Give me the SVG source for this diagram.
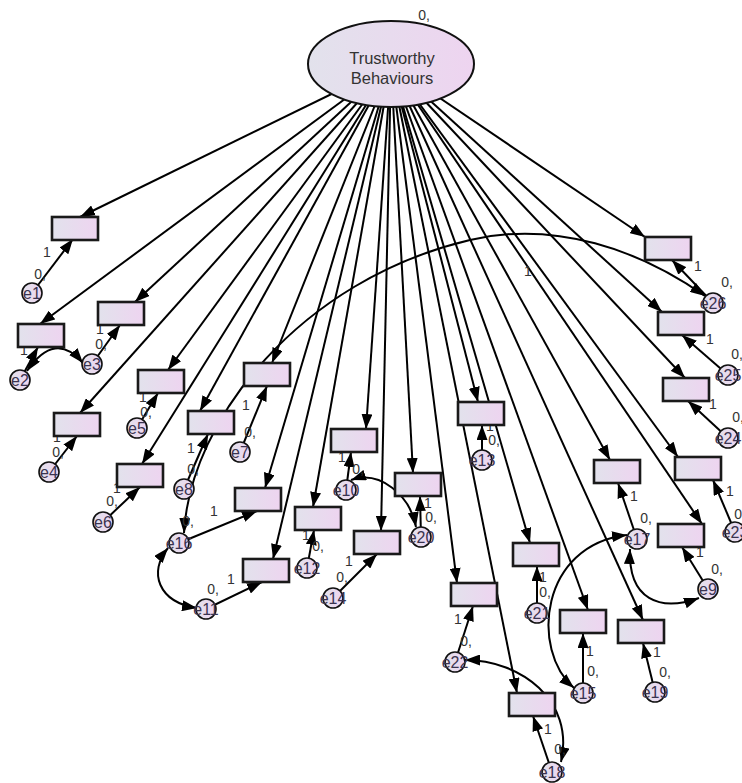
<svg xmlns="http://www.w3.org/2000/svg" width="742" height="783" viewBox="0 0 742 783">
<style>
  .ln { stroke:#000; stroke-width:2; fill:none; marker-end:url(#ah); }
  .cv { stroke:#000; stroke-width:2; fill:none; marker-start:url(#ah); marker-end:url(#ah); }
  .box { fill:url(#fillG); stroke:#1a1a1a; stroke-width:2.6; }
  .err { fill:url(#fillG); stroke:#111; stroke-width:1.6; }
  .lat { fill:url(#fillG); stroke:#111; stroke-width:2; }
  text { font-family:"Liberation Sans", Arial, sans-serif; fill:#333; text-anchor:middle; }
  .w { font-size:14px; }
  .e { font-size:16px; fill:#3a3350; }
  .t { font-size:16.5px; }
</style>
<defs>
  <linearGradient id="fillG" x1="0" y1="0" x2="1" y2="0">
    <stop offset="0" stop-color="#e2e2ec"/>
    <stop offset="1" stop-color="#eed4f0"/>
  </linearGradient>
  <marker id="ah" viewBox="0 0 15 11" refX="15" refY="5.5" markerWidth="15" markerHeight="11" markerUnits="userSpaceOnUse" orient="auto-start-reverse">
    <path d="M0,0 L15,5.5 L0,11 z" fill="#000"/>
  </marker>
</defs>
<rect width="742" height="783" fill="#fff"/>

<!-- connectors: factor loadings, error paths, covariances -->
<g id="connectors">
  <!-- loadings from the latent factor (start at its centre, hidden under the ellipse) -->
  <line class="ln" x1="391" y1="65" x2="80" y2="217"/>
  <line class="ln" x1="391" y1="65" x2="40" y2="324"/>
  <line class="ln" x1="391" y1="65" x2="135" y2="302"/>
  <line class="ln" x1="391" y1="65" x2="80" y2="413"/>
  <line class="ln" x1="391" y1="65" x2="168" y2="370"/>
  <line class="ln" x1="391" y1="65" x2="142" y2="464"/>
  <line class="ln" x1="391" y1="65" x2="272" y2="363"/>
  <line class="ln" x1="391" y1="65" x2="200" y2="411"/>
  <line class="ln" x1="391" y1="65" x2="702" y2="524"/>
  <line class="ln" x1="391" y1="65" x2="366" y2="429"/>
  <line class="ln" x1="391" y1="65" x2="273" y2="559"/>
  <line class="ln" x1="391" y1="65" x2="313" y2="507"/>
  <line class="ln" x1="391" y1="65" x2="478" y2="402"/>
  <line class="ln" x1="391" y1="65" x2="381" y2="531"/>
  <line class="ln" x1="391" y1="65" x2="588" y2="610"/>
  <line class="ln" x1="391" y1="65" x2="265" y2="488"/>
  <line class="ln" x1="391" y1="65" x2="610" y2="460"/>
  <line class="ln" x1="391" y1="65" x2="517" y2="693"/>
  <line class="ln" x1="391" y1="65" x2="643" y2="620"/>
  <line class="ln" x1="391" y1="65" x2="413" y2="473"/>
  <line class="ln" x1="391" y1="65" x2="530" y2="543"/>
  <line class="ln" x1="391" y1="65" x2="457" y2="583"/>
  <line class="ln" x1="391" y1="65" x2="678" y2="457"/>
  <line class="ln" x1="391" y1="65" x2="685" y2="378"/>
  <line class="ln" x1="391" y1="65" x2="662" y2="312"/>
  <line class="ln" x1="391" y1="65" x2="645" y2="237"/>

  <!-- error terms to indicators -->
  <line class="ln" x1="32" y1="293" x2="73" y2="239"/>
  <line class="ln" x1="20" y1="380" x2="38" y2="347"/>
  <line class="ln" x1="92" y1="364" x2="120" y2="325"/>
  <line class="ln" x1="49" y1="472" x2="77" y2="436"/>
  <line class="ln" x1="137" y1="428" x2="158" y2="393"/>
  <line class="ln" x1="103" y1="522" x2="140" y2="487"/>
  <line class="ln" x1="240" y1="452" x2="267" y2="386"/>
  <line class="ln" x1="184" y1="489" x2="208" y2="434"/>
  <line class="ln" x1="708" y1="589" x2="682" y2="547"/>
  <line class="ln" x1="346" y1="490" x2="351" y2="452"/>
  <line class="ln" x1="206" y1="609" x2="262" y2="582"/>
  <line class="ln" x1="307" y1="568" x2="314" y2="530"/>
  <line class="ln" x1="482" y1="460" x2="482" y2="425"/>
  <line class="ln" x1="333" y1="598" x2="377" y2="554"/>
  <line class="ln" x1="583" y1="693" x2="583" y2="633"/>
  <line class="ln" x1="179" y1="543" x2="257" y2="511"/>
  <line class="ln" x1="637" y1="539" x2="618" y2="483"/>
  <line class="ln" x1="552" y1="772" x2="533" y2="716"/>
  <line class="ln" x1="655" y1="692" x2="643" y2="643"/>
  <line class="ln" x1="421" y1="537" x2="420" y2="496"/>
  <line class="ln" x1="537" y1="613" x2="537" y2="566"/>
  <line class="ln" x1="455" y1="662" x2="473" y2="606"/>
  <line class="ln" x1="735" y1="532" x2="713" y2="480"/>
  <line class="ln" x1="728" y1="438" x2="688" y2="401"/>
  <line class="ln" x1="728" y1="375" x2="682" y2="335"/>
  <line class="ln" x1="713" y1="303" x2="672" y2="260"/>

  <!-- error covariances -->
  <path class="cv" d="M27,371 Q55,330 83,363"/>
  <path class="cv" d="M184,533 C190,420 300,280 470,240 C555,220 640,250 705,296"/>
  <path class="cv" d="M168,548 C148,572 158,602 197,608"/>
  <path class="cv" d="M351,480 C380,470 410,495 416,527"/>
  <path class="cv" d="M627,535 C540,545 530,650 574,688"/>
  <path class="cv" d="M630,549 C628,600 660,612 699,598"/>
  <path class="cv" d="M465,660 C520,660 575,700 561,762"/>

  <!-- regression weights -->
  <text class="w" x="47" y="257">1</text>
  <text class="w" x="24" y="355">1</text>
  <text class="w" x="100" y="334">1</text>
  <text class="w" x="57" y="442">1</text>
  <text class="w" x="143" y="402">1</text>
  <text class="w" x="117" y="493">1</text>
  <text class="w" x="246" y="410">1</text>
  <text class="w" x="191" y="453">1</text>
  <text class="w" x="700" y="557">1</text>
  <text class="w" x="342" y="462">1</text>
  <text class="w" x="231" y="584">1</text>
  <text class="w" x="306" y="540">1</text>
  <text class="w" x="490" y="431">1</text>
  <text class="w" x="349" y="566">1</text>
  <text class="w" x="590" y="656">1</text>
  <text class="w" x="214" y="516">1</text>
  <text class="w" x="634" y="501">1</text>
  <text class="w" x="548" y="734">1</text>
  <text class="w" x="657" y="657">1</text>
  <text class="w" x="428" y="508">1</text>
  <text class="w" x="543" y="582">1</text>
  <text class="w" x="458" y="624">1</text>
  <text class="w" x="730" y="496">1</text>
  <text class="w" x="713" y="409">1</text>
  <text class="w" x="710" y="344">1</text>
  <text class="w" x="698" y="271">1</text>
  <text class="w" x="528" y="276">1</text>
</g>

<!-- latent factor -->
<g id="trustworthy-behaviours">
  <ellipse class="lat" cx="391" cy="64" rx="83" ry="43"/>
  <text class="t" x="392" y="64">Trustworthy</text>
  <text class="t" x="392" y="84">Behaviours</text>
  <text class="w" x="424" y="20">0,</text>
</g>

<!-- observed indicators -->
<g id="item1"><rect class="box" x="52" y="217" width="46" height="23"/></g>
<g id="item2"><rect class="box" x="18" y="324" width="46" height="23"/></g>
<g id="item3"><rect class="box" x="98" y="302" width="46" height="23"/></g>
<g id="item4"><rect class="box" x="54" y="413" width="46" height="23"/></g>
<g id="item5"><rect class="box" x="138" y="370" width="46" height="23"/></g>
<g id="item6"><rect class="box" x="117" y="464" width="46" height="23"/></g>
<g id="item7"><rect class="box" x="244" y="363" width="46" height="23"/></g>
<g id="item8"><rect class="box" x="188" y="411" width="46" height="23"/></g>
<g id="item9"><rect class="box" x="658" y="524" width="46" height="23"/></g>
<g id="item10"><rect class="box" x="331" y="429" width="46" height="23"/></g>
<g id="item11"><rect class="box" x="243" y="559" width="46" height="23"/></g>
<g id="item12"><rect class="box" x="295" y="507" width="46" height="23"/></g>
<g id="item13"><rect class="box" x="458" y="402" width="46" height="23"/></g>
<g id="item14"><rect class="box" x="354" y="531" width="46" height="23"/></g>
<g id="item15"><rect class="box" x="560" y="610" width="46" height="23"/></g>
<g id="item16"><rect class="box" x="235" y="488" width="46" height="23"/></g>
<g id="item17"><rect class="box" x="594" y="460" width="46" height="23"/></g>
<g id="item18"><rect class="box" x="509" y="693" width="46" height="23"/></g>
<g id="item19"><rect class="box" x="618" y="620" width="46" height="23"/></g>
<g id="item20"><rect class="box" x="395" y="473" width="46" height="23"/></g>
<g id="item21"><rect class="box" x="513" y="543" width="46" height="23"/></g>
<g id="item22"><rect class="box" x="451" y="583" width="46" height="23"/></g>
<g id="item23"><rect class="box" x="675" y="457" width="46" height="23"/></g>
<g id="item24"><rect class="box" x="663" y="378" width="46" height="23"/></g>
<g id="item25"><rect class="box" x="658" y="312" width="46" height="23"/></g>
<g id="item26"><rect class="box" x="645" y="237" width="46" height="23"/></g>

<!-- error terms -->
<g id="e1"><circle class="err" cx="32" cy="293" r="10"/><text class="e" x="32" y="299">e1</text><text class="w" x="40" y="279">0,</text></g>
<g id="e2"><circle class="err" cx="20" cy="380" r="10"/><text class="e" x="20" y="386">e2</text></g>
<g id="e3"><circle class="err" cx="92" cy="364" r="10"/><text class="e" x="92" y="370">e3</text><text class="w" x="101" y="349">0,</text></g>
<g id="e4"><circle class="err" cx="49" cy="472" r="10"/><text class="e" x="49" y="478">e4</text><text class="w" x="58" y="457">0,</text></g>
<g id="e5"><circle class="err" cx="137" cy="428" r="10"/><text class="e" x="137" y="434">e5</text><text class="w" x="146" y="417">0,</text></g>
<g id="e6"><circle class="err" cx="103" cy="522" r="10"/><text class="e" x="103" y="528">e6</text><text class="w" x="112" y="506">0,</text></g>
<g id="e7"><circle class="err" cx="240" cy="452" r="10"/><text class="e" x="240" y="458">e7</text><text class="w" x="250" y="437">0,</text></g>
<g id="e8"><circle class="err" cx="184" cy="489" r="10"/><text class="e" x="184" y="495">e8</text><text class="w" x="193" y="474">0,</text></g>
<g id="e9"><circle class="err" cx="708" cy="589" r="10"/><text class="e" x="708" y="595">e9</text><text class="w" x="717" y="574">0,</text></g>
<g id="e10"><circle class="err" cx="346" cy="490" r="10"/><text class="e" x="346" y="496">e10</text><text class="w" x="358" y="474">0,</text></g>
<g id="e11"><circle class="err" cx="206" cy="609" r="10"/><text class="e" x="206" y="615">e11</text><text class="w" x="213" y="594">0,</text></g>
<g id="e12"><circle class="err" cx="307" cy="568" r="10"/><text class="e" x="307" y="574">e12</text><text class="w" x="318" y="551">0,</text></g>
<g id="e13"><circle class="err" cx="482" cy="460" r="10"/><text class="e" x="482" y="466">e13</text><text class="w" x="494" y="445">0,</text></g>
<g id="e14"><circle class="err" cx="333" cy="598" r="10"/><text class="e" x="333" y="604">e14</text><text class="w" x="342" y="582">0,</text></g>
<g id="e15"><circle class="err" cx="583" cy="693" r="10"/><text class="e" x="583" y="699">e15</text><text class="w" x="593" y="676">0,</text></g>
<g id="e16"><circle class="err" cx="179" cy="543" r="10"/><text class="e" x="179" y="549">e16</text><text class="w" x="188" y="526">0,</text></g>
<g id="e17"><circle class="err" cx="637" cy="539" r="10"/><text class="e" x="637" y="545">e17</text><text class="w" x="646" y="523">0,</text></g>
<g id="e18"><circle class="err" cx="552" cy="772" r="10"/><text class="e" x="552" y="778">e18</text><text class="w" x="560" y="754">0,</text></g>
<g id="e19"><circle class="err" cx="655" cy="692" r="10"/><text class="e" x="655" y="698">e19</text><text class="w" x="665" y="677">0,</text></g>
<g id="e20"><circle class="err" cx="421" cy="537" r="10"/><text class="e" x="421" y="543">e20</text><text class="w" x="431" y="522">0,</text></g>
<g id="e21"><circle class="err" cx="537" cy="613" r="10"/><text class="e" x="537" y="619">e21</text><text class="w" x="545" y="597">0,</text></g>
<g id="e22"><circle class="err" cx="455" cy="662" r="10"/><text class="e" x="455" y="668">e22</text><text class="w" x="466" y="646">0,</text></g>
<g id="e23"><circle class="err" cx="735" cy="532" r="10"/><text class="e" x="735" y="538">e23</text><text class="w" x="740" y="519">0,</text></g>
<g id="e24"><circle class="err" cx="728" cy="438" r="10"/><text class="e" x="728" y="444">e24</text><text class="w" x="738" y="422">0,</text></g>
<g id="e25"><circle class="err" cx="728" cy="375" r="10"/><text class="e" x="728" y="381">e25</text><text class="w" x="737" y="359">0,</text></g>
<g id="e26"><circle class="err" cx="713" cy="303" r="10"/><text class="e" x="713" y="309">e26</text><text class="w" x="727" y="287">0,</text></g>
</svg>
